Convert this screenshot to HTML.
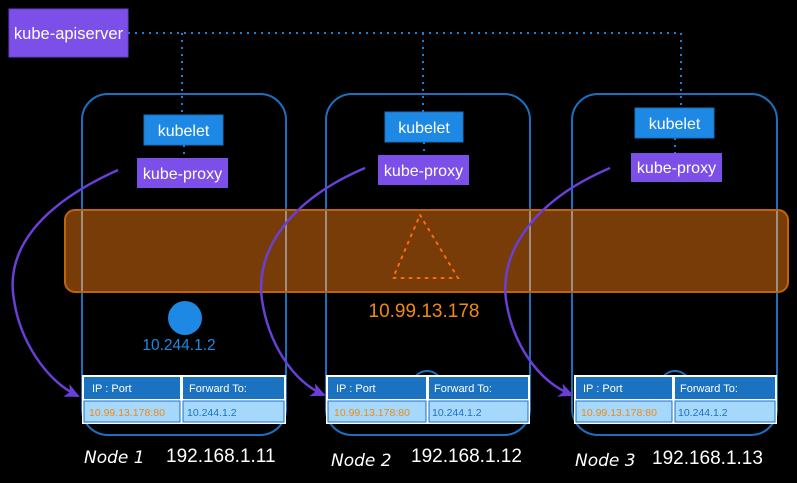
<!DOCTYPE html>
<html><head><style>
body{margin:0;background:#000;}
svg{display:block;font-family:"Liberation Sans",sans-serif;}
</style></head><body>
<svg width="797" height="483" viewBox="0 0 797 483" xmlns="http://www.w3.org/2000/svg">
<defs>
<marker id="ah" markerWidth="16" markerHeight="16" refX="13" refY="7" orient="auto" markerUnits="userSpaceOnUse" viewBox="0 0 16 14">
<path d="M0,0 L15,7 L0,14 L4,7 z" fill="#6a3fd8"/>
</marker>
</defs>
<g stroke="#1e7fd6" stroke-width="2" stroke-dasharray="2,5" fill="none">
<path d="M128,33 H681 V108"/>
<path d="M182,33 V115"/>
<path d="M423,33 V112"/>
<path d="M184,145 V158"/><path d="M424,142 V155"/><path d="M675,138 V153"/>
</g>
<g fill="none" stroke="#1c6fc0" stroke-width="2">
<rect x="82" y="94" width="204" height="341" rx="26"/>
<rect x="326" y="94" width="204" height="341" rx="26"/>
<rect x="572" y="94" width="205" height="341" rx="26"/>
</g>
<rect x="9" y="9" width="119" height="48" fill="#7b4fe8" stroke="#6a40d0"/>
<text x="68.5" y="39" fill="#fff" font-size="16.5" text-anchor="middle">kube-apiserver</text>
<g font-size="16" fill="#fff" text-anchor="middle">
<rect x="144" y="115" width="79" height="30" fill="#1e88e5" stroke="#1a6fc0"/><text x="183.5" y="136">kubelet</text>
<rect x="137" y="158" width="91" height="30" fill="#7b4fe8"/><text x="182.5" y="179">kube-proxy</text>
<rect x="385" y="112" width="78" height="30" fill="#1e88e5" stroke="#1a6fc0"/><text x="424" y="133">kubelet</text>
<rect x="378" y="155" width="91" height="30" fill="#7b4fe8"/><text x="423.5" y="176">kube-proxy</text>
<rect x="635" y="108" width="79" height="30" fill="#1e88e5" stroke="#1a6fc0"/><text x="674.5" y="129">kubelet</text>
<rect x="631" y="153" width="91" height="29" fill="#7b4fe8"/><text x="676.5" y="173">kube-proxy</text>
</g>
<rect x="65" y="210" width="723" height="82" rx="10" fill="rgba(200,100,15,0.6)" stroke="#c0640a" stroke-width="2"/>
<g fill="none" stroke="rgba(255,255,255,0.35)" stroke-width="1.5">
<path d="M82,211 V291 M286,211 V291 M326,211 V291 M530,211 V291 M572,211 V291 M777,211 V291"/>
</g>
<path d="M420,215 L458,278 L393,278 Z" fill="none" stroke="#ff6a10" stroke-width="2" stroke-dasharray="2,6" stroke-linecap="round"/>
<text x="424" y="317" fill="#f08a10" font-size="19" text-anchor="middle">10.99.13.178</text>
<circle cx="185" cy="318" r="17" fill="#1e88e5"/>
<text x="179" y="350" fill="#1e88e5" font-size="15.5" text-anchor="middle">10.244.1.2</text>
<circle cx="427" cy="386" r="15" fill="none" stroke="#1c6fc0" stroke-width="2"/>
<circle cx="675" cy="386" r="15" fill="none" stroke="#1c6fc0" stroke-width="2"/>
<g font-size="11">
<g>
<rect x="82" y="375" width="204" height="49" fill="#fff"/>
<rect x="84" y="377" width="96" height="22" fill="#1a72c0"/><rect x="183" y="377" width="101" height="22" fill="#1a72c0"/>
<rect x="84" y="401" width="96" height="21" fill="#a6d8fb" stroke="#1a72c0"/><rect x="183" y="401" width="101" height="21" fill="#a6d8fb" stroke="#1a72c0"/>
<text x="92" y="392" fill="#fff">IP : Port</text><text x="189" y="392" fill="#fff">Forward To:</text>
<text x="89" y="416" fill="#f08a10" font-size="10.5">10.99.13.178:80</text><text x="187" y="416" fill="#1a72c0" font-size="10.5">10.244.1.2</text>
</g>
<g>
<rect x="326" y="375" width="204" height="49" fill="#fff"/>
<rect x="328" y="377" width="98" height="22" fill="#1a72c0"/><rect x="429" y="377" width="99" height="22" fill="#1a72c0"/>
<rect x="328" y="401" width="98" height="21" fill="#a6d8fb" stroke="#1a72c0"/><rect x="429" y="401" width="99" height="21" fill="#a6d8fb" stroke="#1a72c0"/>
<text x="336" y="392" fill="#fff">IP : Port</text><text x="434" y="392" fill="#fff">Forward To:</text>
<text x="334" y="416" fill="#f08a10" font-size="10.5">10.99.13.178:80</text><text x="432" y="416" fill="#1a72c0" font-size="10.5">10.244.1.2</text>
</g>
<g>
<rect x="574" y="375" width="203" height="49" fill="#fff"/>
<rect x="576" y="377" width="96" height="22" fill="#1a72c0"/><rect x="675" y="377" width="100" height="22" fill="#1a72c0"/>
<rect x="576" y="401" width="96" height="21" fill="#a6d8fb" stroke="#1a72c0"/><rect x="675" y="401" width="100" height="21" fill="#a6d8fb" stroke="#1a72c0"/>
<text x="583" y="392" fill="#fff">IP : Port</text><text x="680" y="392" fill="#fff">Forward To:</text>
<text x="581" y="416" fill="#f08a10" font-size="10.5">10.99.13.178:80</text><text x="678" y="416" fill="#1a72c0" font-size="10.5">10.244.1.2</text>
</g>
</g>
<g fill="none" stroke="#6a3fd8" stroke-width="2.5" marker-end="url(#ah)">
<path d="M118,170 C40,205 5,250 14,300 C20,340 45,380 78,396"/>
<path d="M365,168 C290,200 255,250 262,300 C268,340 290,380 324,395"/>
<path d="M610,168 C535,200 500,250 506,300 C512,340 535,380 572,395"/>
</g>
<g fill="#fff">
<text x="84" y="463" font-family="'DejaVu Sans',sans-serif" font-style="italic" font-size="17">Node 1</text>
<text x="166" y="462" font-size="19">192.168.1.11</text>
<text x="331" y="466" font-family="'DejaVu Sans',sans-serif" font-style="italic" font-size="17">Node 2</text>
<text x="411" y="462" font-size="19">192.168.1.12</text>
<text x="575" y="466" font-family="'DejaVu Sans',sans-serif" font-style="italic" font-size="17">Node 3</text>
<text x="652" y="464" font-size="19">192.168.1.13</text>
</g>
</svg>
</body></html>
